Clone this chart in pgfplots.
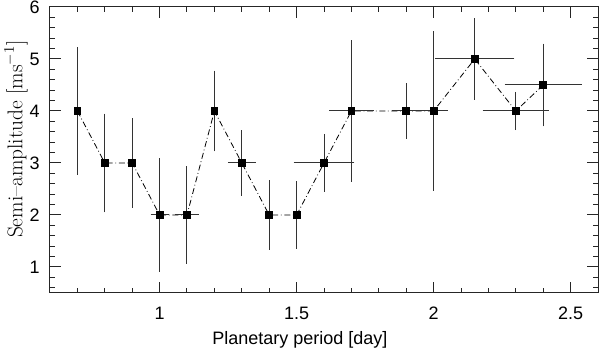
\documentclass[border=0pt]{standalone}
\usepackage{pgfplots}
\pgfplotsset{compat=1.18}
\usepackage{pgfplotstable}
\usepackage{fontspec}
\newfontfamily\hel{Liberation Sans}

\pgfplotstableread{
x    y    ex     ey
0.7  4    0      1.17
0.8  3    0      0.89
0.9  3    0      0.80
1.0  2    0.022  1.03
1.1  2    0.032  0.88
1.2  4    0      0.72
1.3  3    0.04   0.57
1.4  2    0      0.61
1.5  2    0      0.59
1.6  3    0.1    0.50
1.7  4    0.07   1.30
1.9  4    0.04   0.48
2.0  4    0.04   1.48
2.15 5    0.134  0.73
2.3  4    0.11   0.31
2.4  4.5  0.13   0.74
}\amp

\begin{document}
\begin{tikzpicture}
\path[use as bounding box] (-37.5pt,-44.25pt) rectangle (412.5pt,219.75pt);
\begin{axis}[
  scale only axis,
  width=411pt, height=214.5pt,
  xmin=0.6, xmax=2.6,
  ymin=0.5, ymax=6,
  axis line style={black!85, line width=0.75pt},
  tick style={black!85, line width=0.75pt},
  tick align=inside,
  xtick={1,1.5,2,2.5},
  minor xtick={0.7,0.8,0.9,1.1,1.2,1.3,1.4,1.6,1.7,1.8,1.9,2.1,2.2,2.3,2.4},
  ytick={1,2,3,4,5,6},
  minor ytick={0.6,0.8,1.2,1.4,1.6,1.8,2.2,2.4,2.6,2.8,3.2,3.4,3.6,3.8,4.2,4.4,4.6,4.8,5.2,5.4,5.6,5.8},
  major tick length=8.5pt,
  minor tick length=4pt,
  /pgf/number format/assume math mode=true,
  xticklabel style={font=\hel\fontsize{13.5pt}{15pt}\selectfont, anchor=base, yshift=-20pt, inner sep=0pt},
  yticklabel style={font=\hel\fontsize{13.5pt}{15pt}\selectfont, anchor=east, xshift=-7.5pt, inner sep=0pt},
  xlabel={Planetary period [day]},
  xlabel style={font=\hel\fontsize{13.5pt}{15pt}\selectfont, at={(axis description cs:0.456,0)}, anchor=base, yshift=-39pt, inner sep=0pt},
  ylabel={Semi--amplitude [ms$^{-1}$]},
  ylabel style={font=\fontsize{16pt}{18pt}\selectfont, at={(axis description cs:-0.0505,0.538)}, anchor=base, inner sep=0pt},
]
\addplot[black, line width=0.6pt, dash pattern=on 4.5pt off 2pt on 0.6pt off 2pt,
  mark=square*, mark size=2.6pt, mark options={solid, fill=black},
  error bars/.cd, x dir=both, x explicit, y dir=both, y explicit,
  error bar style={black!80, line width=0.75pt, solid},
  error mark options={black!80, line width=0.75pt, mark size=2.25pt, solid}]
  table[x=x, y=y, x error=ex, y error=ey] {\amp};
\end{axis}
\end{tikzpicture}
\end{document}
